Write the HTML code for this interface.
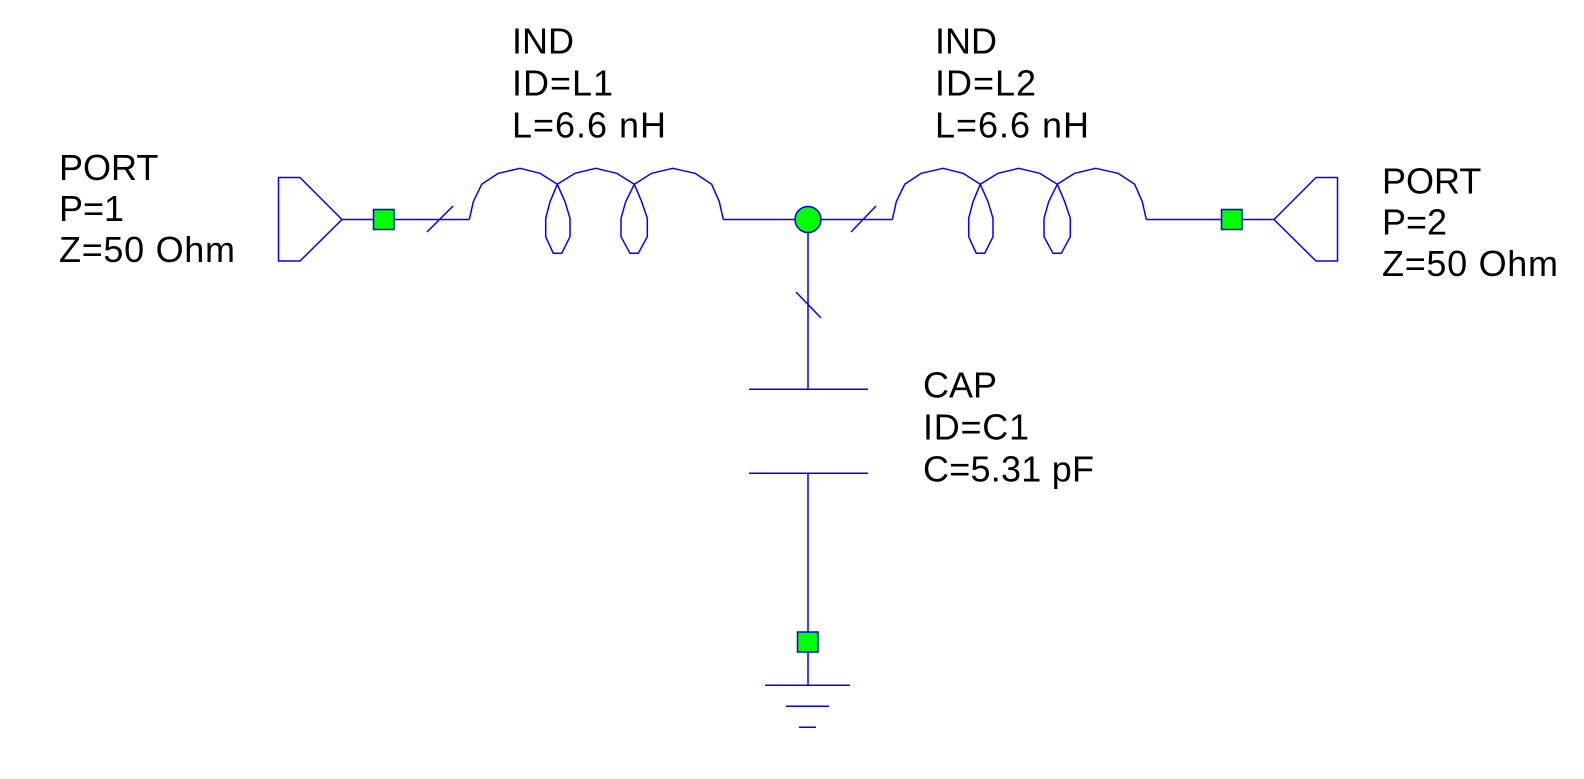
<!DOCTYPE html>
<html>
<head>
<meta charset="utf-8">
<style>
  html, body { margin:0; padding:0; background:#ffffff; }
  body { width:1584px; height:779px; overflow:hidden; }
  svg { display:block; }
  text { font-family: "Liberation Sans", Arial, sans-serif; font-size:36px; fill:#000; }
</style>
</head>
<body>
<svg width="1584" height="779" viewBox="0 0 1584 779" xmlns="http://www.w3.org/2000/svg">
  <g fill="none" stroke="#0000ff" stroke-width="1.5" stroke-linejoin="round">
    <!-- Port 1 -->
    <polygon points="278.5,177.5 300,177.5 342,219.5 300,261 278.5,261"/>
    <line x1="342" y1="219.5" x2="469.3" y2="219.5"/>
    <line x1="427" y1="232" x2="453" y2="206"/>
    <!-- L1 coil -->
    <polyline id="coil" points="469.3,219.5 473.3,201.7 481.7,184.3 498.3,173.3 520,168.3 540,173.3 557.3,184.3 565,201.7 570,218.3 570,236.7 561.7,253.3 553.3,253.3 545.7,236.7 545.7,218.3 550,201.7 557.3,184.3 575,173.3 595.7,168.3 616.7,173.3 634.3,184.3 641.7,201.7 647.3,218.3 647.3,236.7 638.3,253.3 630,253.3 621,236.7 621,218.3 625.7,201.7 634.3,184.3 651.7,173.3 672.7,168.3 695,173.3 711.7,184.3 719.3,201.7 723.3,219.5"/>
    <line x1="723.3" y1="219.5" x2="892.3" y2="219.5"/>
    <line x1="851" y1="232" x2="876" y2="206"/>
    <!-- L2 coil -->
    <g transform="translate(423,0)">
      <polyline points="469.3,219.5 473.3,201.7 481.7,184.3 498.3,173.3 520,168.3 540,173.3 557.3,184.3 565,201.7 570,218.3 570,236.7 561.7,253.3 553.3,253.3 545.7,236.7 545.7,218.3 550,201.7 557.3,184.3 575,173.3 595.7,168.3 616.7,173.3 634.3,184.3 641.7,201.7 647.3,218.3 647.3,236.7 638.3,253.3 630,253.3 621,236.7 621,218.3 625.7,201.7 634.3,184.3 651.7,173.3 672.7,168.3 695,173.3 711.7,184.3 719.3,201.7 723.3,219.5"/>
    </g>
    <line x1="1146.3" y1="219.5" x2="1274" y2="219.5"/>
    <!-- Port 2 -->
    <polygon points="1337.5,177.5 1316,177.5 1274,219.5 1316,261 1337.5,261"/>
    <!-- shunt branch -->
    <line x1="808" y1="219.5" x2="808" y2="389.3"/>
    <line x1="796" y1="292" x2="821" y2="318"/>
    <line x1="749" y1="389.3" x2="868" y2="389.3"/>
    <line x1="749" y1="473.3" x2="868" y2="473.3"/>
    <line x1="808" y1="473.3" x2="808" y2="685.3"/>
    <!-- ground -->
    <line x1="765" y1="685.3" x2="850" y2="685.3"/>
    <line x1="786" y1="706.3" x2="829" y2="706.3"/>
    <line x1="799" y1="727.3" x2="816" y2="727.3"/>
  </g>
  <!-- green markers -->
  <g fill="#00ff00" stroke="#0000ff" stroke-width="1.5">
    <rect x="373.5" y="209.5" width="20.5" height="20"/>
    <rect x="1221.5" y="209.5" width="20.5" height="20"/>
    <rect x="797.5" y="632" width="20.5" height="20"/>
    <circle cx="808" cy="219.5" r="13"/>
  </g>
  <!-- labels -->
  <text x="59" y="180">PORT</text>
  <text x="59" y="221">P=1</text>
  <text x="59" y="262" textLength="176" lengthAdjust="spacing">Z=50 Ohm</text>

  <text x="1382" y="193.5">PORT</text>
  <text x="1382" y="234.5">P=2</text>
  <text x="1382" y="276" textLength="176" lengthAdjust="spacing">Z=50 Ohm</text>

  <text x="512" y="53.5">IND</text>
  <text x="512" y="95.5" textLength="101" lengthAdjust="spacing">ID=L1</text>
  <text x="512" y="137.5" textLength="154" lengthAdjust="spacing">L=6.6 nH</text>

  <text x="935" y="53.5">IND</text>
  <text x="935" y="95.5" textLength="101" lengthAdjust="spacing">ID=L2</text>
  <text x="935" y="137.5" textLength="154" lengthAdjust="spacing">L=6.6 nH</text>

  <text x="923" y="397.5">CAP</text>
  <text x="923" y="439.5" textLength="106" lengthAdjust="spacing">ID=C1</text>
  <text x="923" y="481.5" textLength="171" lengthAdjust="spacing">C=5.31 pF</text>
</svg>
</body>
</html>
